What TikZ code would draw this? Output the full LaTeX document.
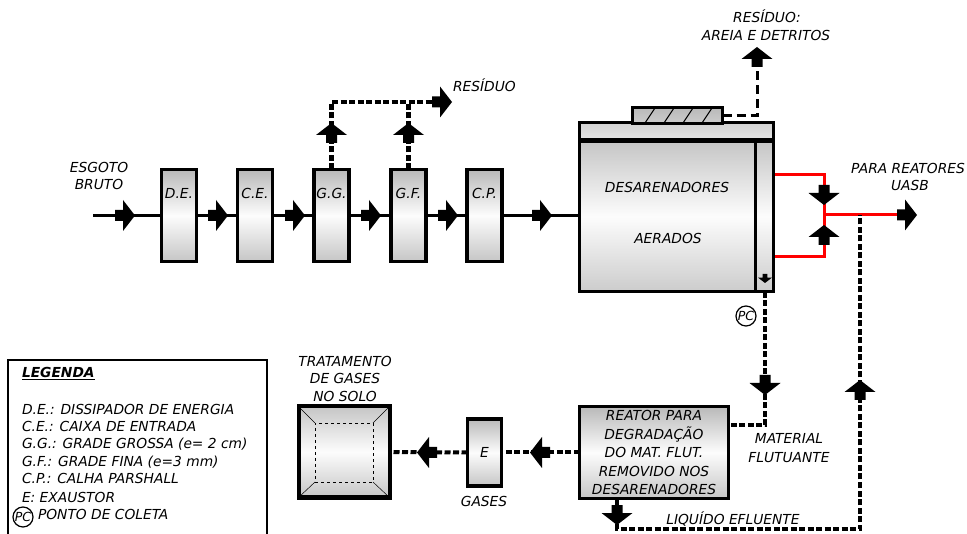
\documentclass[tikz,border=0pt]{standalone}
\usepackage{fontspec}
\setmainfont{DejaVu Sans}
\tikzset{
  barrow/.pic={\fill (-20,-5.5)--(-12,-5.5)--(-12,-15.5)--(0,0)--(-12,15.5)--(-12,5.5)--(-20,5.5)--cycle;}
}
\begin{document}
\begin{tikzpicture}[x=1pt,y=-1pt,
  every node/.style={inner sep=0pt, outer sep=0pt, font=\fontsize{13.8}{18.5}\selectfont\itshape},
  txt/.style={text height=10pt, text depth=0pt},
  box/.style={draw, line width=3.5pt, top color=gray!55, bottom color=gray!45, middle color=gray!2},
  unit/.style={box, minimum width=35pt, minimum height=92pt},
  ml/.style={line width=3pt},
  redl/.style={line width=3pt, red},
  dl/.style={line width=4.5pt, dash pattern=on 6pt off 2.5pt},
  dlb/.style={line width=3pt, dash pattern=on 9pt off 5pt},
  pc/.style={circle, draw, line width=1.2pt, minimum size=20pt, font=\fontsize{12.5}{12.5}\selectfont\itshape}
]
\useasboundingbox (0,0) rectangle (967,534);

% ---------- main flow units
\node[unit] (de) at (179,215.5) {};
\node[unit] (ce) at (255,215.5) {};
\node[unit] (gg) at (331.5,215.5) {};
\node[unit] (gf) at (408.5,215.5) {};
\node[unit] (cp) at (484.5,215.5) {};
\node[txt] (deL) at (179,194) {D.E.};
\node[txt] (ceL) at (255,194) {C.E.};
\node[txt] (ggL) at (331.5,194) {G.G.};
\node[txt] (gfL) at (408.5,194) {G.F.};
\node[txt] (cpL) at (484.5,194) {C.P.};

% ---------- desarenadores
\node[draw, line width=3pt, top color=gray!35, bottom color=gray!20, minimum width=194pt, minimum height=17pt] (destop) at (676.5,131.5) {};
\node[draw, line width=3pt, top color=gray!45, bottom color=gray!40, middle color=gray!2, minimum width=194pt, minimum height=150pt] (des) at (676.5,216.5) {};
\draw[line width=3pt] (755,141.5) -- (755,291.5);
\node[draw, line width=2.5pt, top color=gray!55, bottom color=gray!40, minimum width=90pt, minimum height=16pt] (hatch) at (677.5,115.5) {};
\foreach \x in {645,664,683,702} \draw[line width=1pt] (\x,123) -- (\x+10,108);
\node[txt] (desa) at (667,188) {DESARENADORES};
\node[txt] (aer) at (668,239) {AERADOS};
\pic[rotate=-90, scale=0.45] at (765,283) {barrow};

% ---------- lower units
\node[box, minimum width=149pt, minimum height=92pt, align=center] (reactor) at (654,452.5)
  {REATOR PARA\\DEGRADAÇÃO\\DO MAT. FLUT.\\REMOVIDO NOS\\DESARENADORES};
\node[box, minimum width=34pt, minimum height=67pt] (E) at (484.5,452.5) {E};
\node[draw, line width=4pt, top color=gray!45, bottom color=gray!45, middle color=gray!2, minimum width=91pt, minimum height=91pt] (trat) at (344,452) {};
\node[draw, dashed, line width=0.8pt, minimum width=58pt, minimum height=59pt] (tratin) at (344,452.5) {};
\draw[line width=0.5pt] (trat.north west) -- (tratin.north west);
\draw[line width=0.5pt] (trat.north east) -- (tratin.north east);
\draw[line width=0.5pt] (trat.south west) -- (tratin.south west);
\draw[line width=0.5pt] (trat.south east) -- (tratin.south east);

% ---------- main flow line
\coordinate (in) at (93,215.5);
\draw[ml] (in) -- (de.west);
\draw[ml] (de.east) -- (ce.west);
\draw[ml] (ce.east) -- (gg.west);
\draw[ml] (gg.east) -- (gf.west);
\draw[ml] (gf.east) -- (cp.west);
\draw[ml] (cp.east) -- (cp.east -| des.west);
\foreach \x in {135,228,305,381,458,552} \pic at (\x,215.5) {barrow};

% ---------- residue from grades
\coordinate (resA) at (331.5,102);
\coordinate (resB) at (408.5,102);
\coordinate (resEnd) at (440,102);
\draw[dl] (gg.north) -- (resA) -- (resEnd);
\draw[dl] (gf.north) -- (resB);
\pic[rotate=90] at (331.5,123) {barrow};
\pic[rotate=90] at (408.5,123) {barrow};
\pic at (452,102) {barrow};
\node[txt, anchor=west] (res) at (453,87) {RESÍDUO};

% ---------- residue sand
\coordinate (hc) at (757,115.5);
\coordinate (hEnd) at (757,58);
\draw[dlb] (hatch.east) -- (hc) -- (hEnd);
\pic[rotate=90] at (757,47) {barrow};
\node[txt] (res2a) at (767,18) {RESÍDUO:};
\node[txt] (res2b) at (766,36) {AREIA E DETRITOS};

% ---------- red outlet
\coordinate (rA) at (775,175);
\coordinate (rB) at (775,257);
\coordinate (j) at (824,215);
\coordinate (uasb) at (905,215);
\draw[redl] (rA) -| (j);
\draw[redl] (rB) -| (j);
\draw[redl] (j) -- (uasb);
\pic[rotate=-90] at (824,205) {barrow};
\pic[rotate=90] at (824,225) {barrow};
\pic at (917,215) {barrow};
\node[txt] (para) at (908,169) {PARA REATORES};
\node[txt] (uasbT) at (910,186) {UASB};

% ---------- floating material
\coordinate (s1) at (765,292);
\coordinate (s2) at (765,425);
\draw[dl, line width=4pt] (s1) -- (s2) -- (s2 -| reactor.east);
\pic[rotate=-90] at (765,395) {barrow};
\node[pc] (pc1) at (746,316) {PC};
\node[txt] (mat1) at (789,439) {MATERIAL};
\node[txt] (mat2) at (789,458) {FLUTUANTE};

% ---------- liquid effluent
\coordinate (b1) at (617,529);
\coordinate (b2) at (860,529);
\draw[dl, line width=4pt] (b1 |- reactor.south) -- (b1) -- (b2) -- (j -| b2);
\pic[rotate=-90] at (617,525) {barrow};
\pic[rotate=90] at (860,380) {barrow};
\node[txt] (liq) at (733,519) {LIQUÍDO EFLUENTE};

% ---------- gases
\draw[dl, line width=4pt] (reactor.west) -- (E.east);
\draw[dl, line width=4pt] (E.west) -- (trat.east);
\pic[rotate=180] at (530,452.5) {barrow};
\pic[rotate=180] at (417,452.5) {barrow};
\node[txt] (gases) at (484,502) {GASES};
\node[txt] (tr1) at (345,362) {TRATAMENTO};
\node[txt] (tr2) at (345,379) {DE GASES};
\node[txt] (tr3) at (345,397) {NO SOLO};

% ---------- inlet label
\node[txt] (esg1) at (99,168) {ESGOTO};
\node[txt] (esg2) at (99,185) {BRUTO};

% ---------- legend
\node[draw, line width=2pt, minimum width=259pt, minimum height=190pt, anchor=north west] (legend) at (8,360) {};
\node[txt, anchor=west] (lg0) at (22,373) {\bfseries\underline{LEGENDA}};
\node[txt, anchor=west] (lg1) at (22,410) {D.E.: DISSIPADOR DE ENERGIA};
\node[txt, anchor=west] (lg2) at (22,427) {C.E.: CAIXA DE ENTRADA};
\node[txt, anchor=west] (lg3) at (22,444) {G.G.: GRADE GROSSA (e= 2 cm)};
\node[txt, anchor=west] (lg4) at (22,462) {G.F.: GRADE FINA (e=3 mm)};
\node[txt, anchor=west] (lg5) at (22,479) {C.P.: CALHA PARSHALL};
\node[txt, anchor=west] (lg6) at (22,497) {E: EXAUSTOR};
\node[pc] (pc2) at (23,517) {PC};
\node[txt, anchor=west] (lg7) at (38,514) {PONTO DE COLETA};
\end{tikzpicture}
\end{document}
